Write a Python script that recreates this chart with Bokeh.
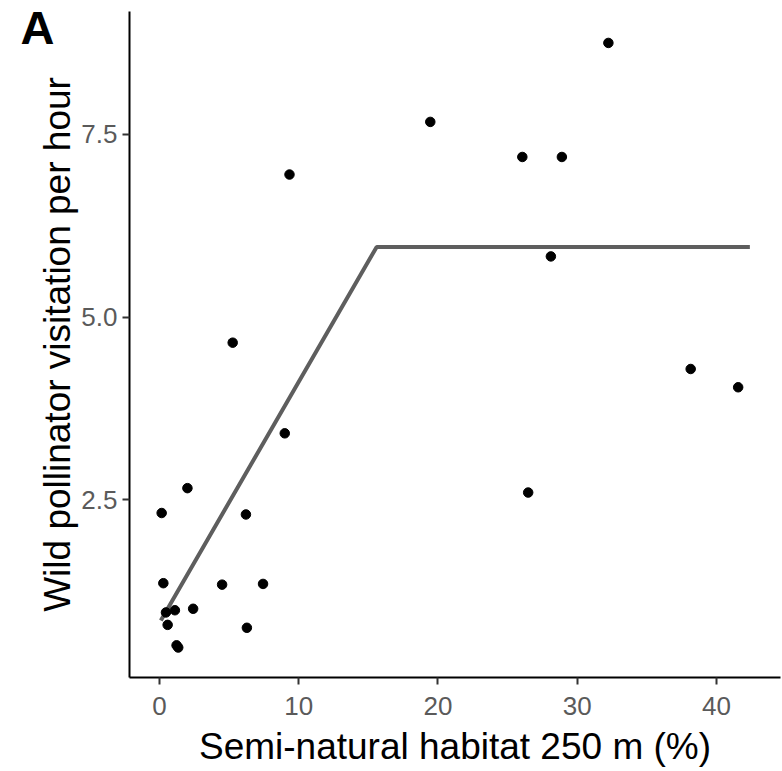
from bokeh.plotting import figure
from bokeh.models import Range1d, Label, FixedTicker, ColumnDataSource
from bokeh.embed import file_html
from bokeh.resources import INLINE

# Observed sites: semi-natural habitat within 250 m (%) and wild pollinator visits per hour
habitat_pct = [32.24, 19.45, 26.06, 28.90, 9.34, 28.11, 5.26, 38.15, 41.56, 9.00,
               2.01, 0.16, 6.21, 26.48, 0.28, 4.50, 7.44, 0.47, 1.11, 2.42,
               0.59, 6.28, 1.23, 1.35]
visits_per_hour = [8.75, 7.67, 7.19, 7.19, 6.95, 5.83, 4.65, 4.29, 4.04, 3.41,
                   2.66, 2.32, 2.30, 2.60, 1.36, 1.34, 1.35, 0.96, 0.99, 1.01,
                   0.79, 0.75, 0.51, 0.48]

# Segmented (breakpoint) regression fit
fit_x = [0.10, 15.60, 42.40]
fit_y = [0.85, 5.96, 5.96]

x_ticks = [0, 10, 20, 30, 40]
y_ticks = [2.5, 5.0, 7.5]
y_tick_labels = {2.5: "2.5", 5.0: "5.0", 7.5: "7.5"}

FONT = "Liberation Sans"

p = figure(width=782, height=771, output_backend="svg", toolbar_location=None,
           x_range=Range1d(-2.15, 44.6), y_range=Range1d(0.07, 9.18),
           min_border_left=123, min_border_right=2, min_border_top=11,
           min_border_bottom=94)
p.outline_line_color = None
p.grid.visible = False
p.background_fill_color = "white"
p.border_fill_color = "white"

src = ColumnDataSource(dict(x=habitat_pct, y=visits_per_hour))
p.line(fit_x, fit_y, line_color="#5e5e5e", line_width=4)
p.scatter("x", "y", source=src, size=9.5, color="black")

for ax in (p.xaxis[0], p.yaxis[0]):
    ax.axis_line_color = "black"
    ax.axis_line_width = 2
    ax.major_tick_line_color = "#333333"
    ax.major_tick_line_width = 2
    ax.major_tick_out = 7
    ax.major_tick_in = 0
    ax.minor_tick_line_color = None
    ax.major_label_text_font = FONT
    ax.major_label_text_font_size = "26px"
    ax.major_label_text_color = "#5a5a5a"
    ax.axis_label_text_font = FONT
    ax.axis_label_text_font_size = "37px"
    ax.axis_label_text_font_style = "normal"
    ax.axis_label_text_color = "black"

p.xaxis.ticker = FixedTicker(ticks=x_ticks)
p.yaxis.ticker = FixedTicker(ticks=y_ticks)
p.yaxis.major_label_overrides = y_tick_labels
p.xaxis.axis_label = "Semi-natural habitat 250 m (%)"
p.yaxis.axis_label = "Wild pollinator visitation per hour"
p.xaxis.major_label_standoff = 12
p.yaxis.major_label_standoff = 5
p.xaxis.axis_label_standoff = 8
p.yaxis.axis_label_standoff = 0

# Panel letter, placed in a side panel so it is not clipped to the plot frame
panel = Label(x=20, y=0, x_units="canvas", y_units="canvas", text="A",
              text_font=FONT, text_font_size="47px", text_font_style="bold",
              text_color="black", text_baseline="top", text_align="left")
p.add_layout(panel, "left")

open("out.html", "w").write(file_html(p, INLINE))
